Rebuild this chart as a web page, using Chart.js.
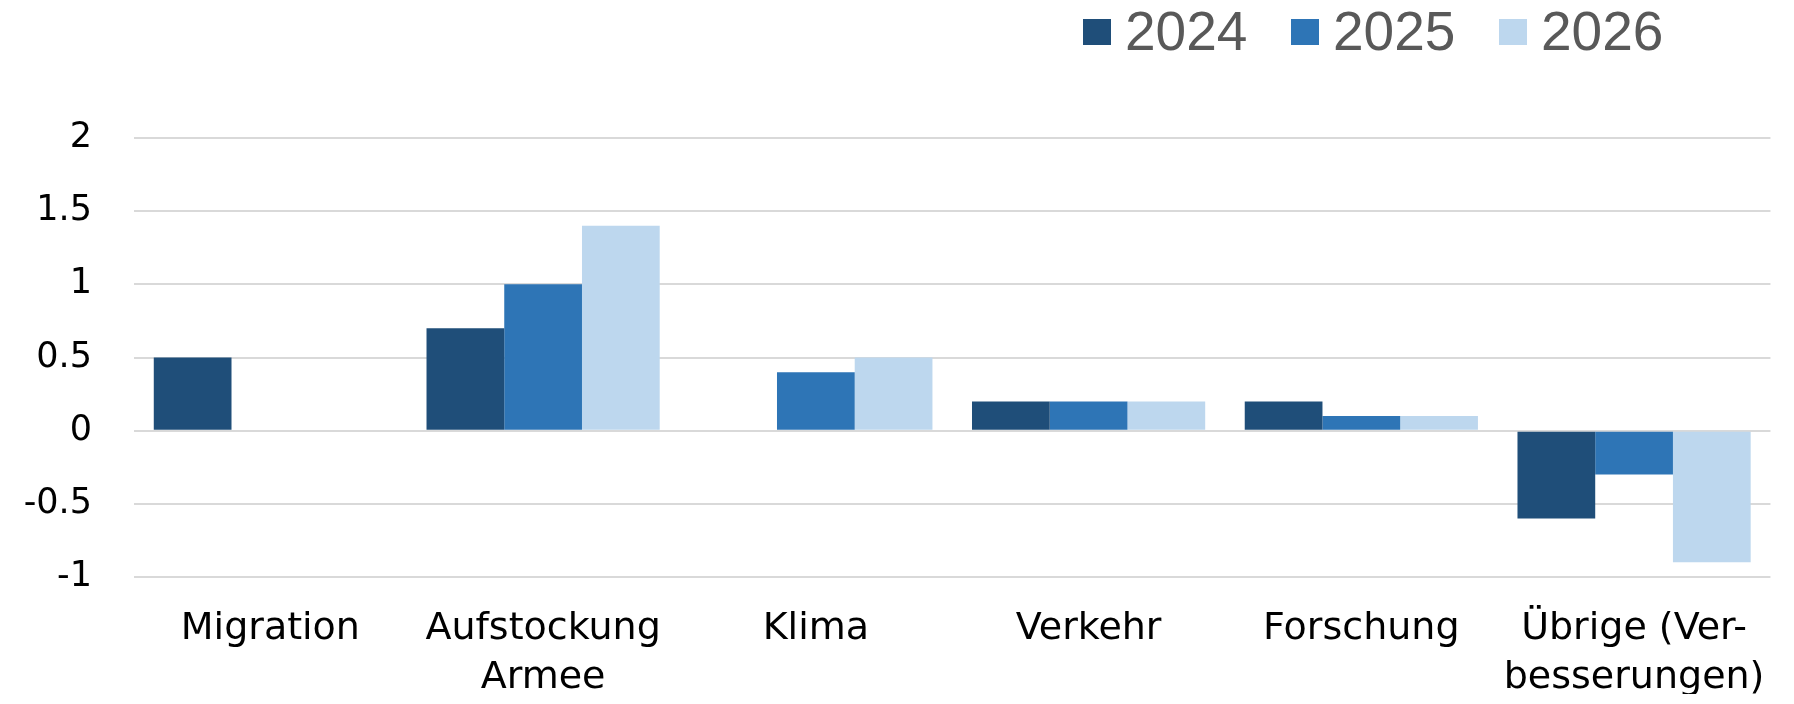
<!DOCTYPE html>
<html>
<head>
<meta charset="utf-8">
<script src="https://cdn.jsdelivr.net/npm/chart.js@4/dist/chart.umd.min.js"></script>
<style>
  html, body { margin: 0; padding: 0; background: #ffffff; }
  #wrap { width: 1794px; height: 704px; position: relative; }
</style>
</head>
<body>
<div id="wrap"><canvas id="chart"></canvas></div>
<script>
// Kategorien (mehrzeilig wie im Original)
const categories = [
  "Migration",
  ["Aufstockung", "Armee"],
  "Klima",
  "Verkehr",
  "Forschung",
  ["Übrige (Ver-", "besserungen)"]
];

const years = ["2024", "2025", "2026"];

// Werte
const values2024 = [0.5, 0.7, null, 0.2, 0.2, -0.6];
const values2025 = [null, 1.0, 0.4, 0.2, 0.1, -0.3];
const values2026 = [null, 1.4, 0.5, 0.2, 0.1, -0.9];

const yTicks = [-1, -0.5, 0, 0.5, 1, 1.5, 2];

const colors = ["#1f4e79", "#2e75b6", "#bdd7ee"];

// eigene Legende oben rechts (Kästchen eng am Text wie im Original)
const topLegend = {
  id: "topLegend",
  afterDraw(chart) {
    const ctx = chart.ctx;
    const startX = chart.width - 711;
    const step = 208;
    ctx.save();
    ctx.font = "55px 'Liberation Sans', Arial, sans-serif";
    ctx.textBaseline = "alphabetic";
    ctx.textAlign = "left";
    chart.data.datasets.forEach((ds, i) => {
      const x = startX + i * step;
      ctx.fillStyle = ds.backgroundColor;
      ctx.fillRect(x, 19, 28, 26);
      ctx.fillStyle = "#595959";
      ctx.fillText(ds.label, x + 42, 50);
    });
    ctx.restore();
  }
};

new Chart(document.getElementById("chart"), {
  type: "bar",
  data: {
    labels: categories,
    datasets: [
      { label: years[0], data: values2024, backgroundColor: colors[0] },
      { label: years[1], data: values2025, backgroundColor: colors[1] },
      { label: years[2], data: values2026, backgroundColor: colors[2] }
    ]
  },
  options: {
    responsive: true,
    maintainAspectRatio: false,
    animation: false,
    devicePixelRatio: 1,
    layout: { padding: { left: 0, right: 19, top: 138, bottom: 10 } },
    datasets: {
      bar: {
        categoryPercentage: 0.855,
        barPercentage: 1,
        borderWidth: 0
      }
    },
    plugins: {
      tooltip: { enabled: false },
      legend: { display: false }
    },
    scales: {
      x: {
        afterFit: (scale) => { scale.height = 117; },
        grid: { display: false, drawTicks: false },
        border: { display: false },
        ticks: {
          color: "#000000",
          padding: 28,
          maxRotation: 0,
          autoSkip: false,
          font: { family: "DejaVu Sans", size: 38, lineHeight: 1.28 }
        }
      },
      y: {
        min: -1,
        max: 2,
        afterBuildTicks: (scale) => {
          scale.ticks = yTicks.map(v => ({ value: v }));
        },
        afterFit: (scale) => { scale.width = 134; },
        grid: { color: "#d9d9d9", lineWidth: 2, drawTicks: false },
        border: { display: false },
        ticks: {
          color: "#000000",
          padding: 42,
          font: { family: "DejaVu Sans", size: 35 },
          callback: (v) => String(v)
        }
      }
    }
  },
  plugins: [topLegend]
});
</script>
</body>
</html>
